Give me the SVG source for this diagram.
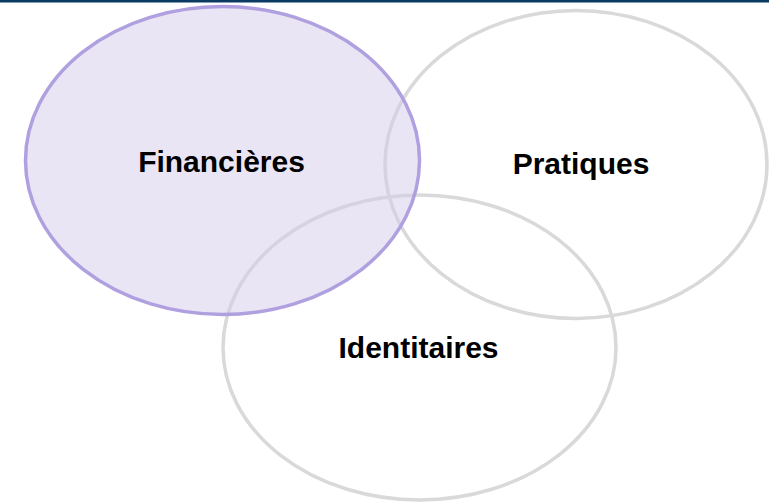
<svg xmlns="http://www.w3.org/2000/svg" width="769" height="503" viewBox="0 0 769 503">
<style>
.lbl{font-family:"Liberation Sans",Arial,sans-serif;font-weight:bold;font-size:30px;fill:#000;text-anchor:middle}
.gray{fill:none;stroke:#d9d9d9;stroke-width:3.5}
.purple{fill:#d3cbeb;fill-opacity:0.5;stroke:#b1a0e0;stroke-width:3.5}
</style>
<rect x="0" y="0" width="769" height="503" fill="#ffffff"/>
<rect x="0" y="0" width="769" height="2.5" fill="#0b3a62"/>
<g id="pratiques">
<ellipse class="gray" cx="576" cy="164.5" rx="191" ry="154"/>
</g>
<g id="identitaires">
<ellipse class="gray" cx="419.5" cy="347.5" rx="196.5" ry="152.5"/>
</g>
<g id="financieres">
<ellipse class="purple" cx="222.5" cy="160.5" rx="197" ry="154"/>
</g>
<g id="labels">
<text class="lbl" x="221.5" y="172">Financières</text>
<text class="lbl" x="581" y="174">Pratiques</text>
<text class="lbl" x="418.5" y="358">Identitaires</text>
</g>
<g id="connectors"/>
</svg>
